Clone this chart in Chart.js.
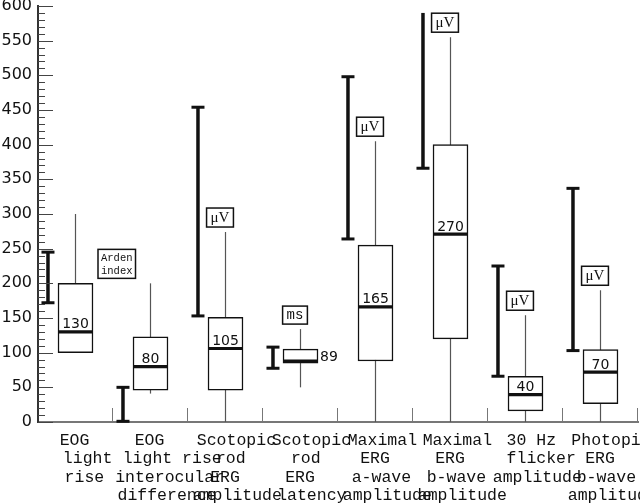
<!DOCTYPE html>
<html>
<head>
<meta charset="utf-8">
<script src="https://cdn.jsdelivr.net/npm/chart.js@4.4.0/dist/chart.umd.min.js"></script>
<style>
  html, body { margin: 0; padding: 0; background: #fff; }
  #wrap { width: 640px; height: 503px; }
</style>
</head>
<body>
<div id="wrap"><canvas id="chart" width="640" height="503"></canvas></div>
<script>
// ── DATA ──
const CATEGORIES = [
  ['EOG', 'light', 'rise'],
  ['EOG', 'light rise', 'interocular', 'difference'],
  ['Scotopic', 'rod', 'ERG', 'amplitude'],
  ['Scotopic', 'rod', 'ERG', 'latency'],
  ['Maximal', 'ERG', 'a-wave', 'amplitude'],
  ['Maximal', 'ERG', 'b-wave', 'amplitude'],
  ['30 Hz', 'flicker', 'amplitude'],
  ['Photopic', 'ERG', 'b-wave', 'amplitude']
];
const Q1            = [100, 46, 46, 85, 88, 120, 16, 26.5];
const Q3            = [200, 123, 151, 105, 255, 400, 66, 104.5];
const MEDIANS       = [130, 80, 106, 88, 166, 271, 39.5, 72];
const MEDIAN_LABELS = ['130', '80', '105', '89', '165', '270', '40', '70'];
const WHISKER_LOW   = [100, 41, 0, 50, 0, 0, 0, 0];
const WHISKER_HIGH  = [300, 200, 274, 134, 405, 555, 154, 190];
const NORMAL_LOW    = [172, 1, 153, 77.5, 264, 366, 66, 103];
const NORMAL_HIGH   = [245, 50, 454, 108, 498, 590, 225, 337];
const NORMAL_OPEN_TOP = [false, false, false, false, false, true, false, false];
const UNITS = [['Arden', 'index'], null, ['μV'], ['ms'], ['μV'], ['μV'], ['μV'], ['μV']];
const Y_TICKS = [0, 50, 100, 150, 200, 250, 300, 350, 400, 450, 500, 550, 600];

// ── DRAWING HELPERS ──
const INK = '#111';

function catWidth(x) { return x.width / CATEGORIES.length; }

function drawUnitBox(ctx, lines, cx, bottom, left, top) {
  let font, lh, padX, h;
  if (lines.length > 1)      { font = '10.5px "Liberation Mono"'; lh = 13; padX = 3; }
  else if (lines[0] === 'ms') { font = '14px "Liberation Mono"'; lh = 18; padX = 4; }
  else                        { font = '15px "Liberation Serif"'; lh = 19; padX = 4; }
  ctx.font = font;
  const w = Math.max(...lines.map(l => ctx.measureText(l).width)) + padX * 2;
  h = lines.length * lh + (lines.length > 1 ? 3 : 0);
  const bx = left !== undefined ? left : cx - w / 2;
  const by = top !== undefined ? top : bottom - h;
  ctx.fillStyle = '#fff';
  ctx.fillRect(bx, by, w, h);
  ctx.strokeStyle = INK; ctx.lineWidth = 1.5;
  ctx.strokeRect(bx, by, w, h);
  ctx.fillStyle = INK;
  ctx.textAlign = 'center'; ctx.textBaseline = 'middle';
  lines.forEach((l, k) => ctx.fillText(l, bx + w / 2, by + (lines.length > 1 ? 1.5 : 0) + lh * (k + 0.5) + 0.5));
}

const overlay = {
  id: 'overlay',
  beforeDatasetsDraw(chart) {
    const { ctx, scales: { x, y } } = chart;
    ctx.save();
    ctx.strokeStyle = '#555'; ctx.lineWidth = 1.2;
    CATEGORIES.forEach((c, i) => {
      if (WHISKER_HIGH[i] <= WHISKER_LOW[i]) return;
      const cx = x.getPixelForValue(i);
      ctx.beginPath();
      ctx.moveTo(cx, y.getPixelForValue(WHISKER_LOW[i]));
      ctx.lineTo(cx, y.getPixelForValue(WHISKER_HIGH[i]));
      ctx.stroke();
    });
    ctx.restore();
  },
  afterDatasetsDraw(chart) {
    const { ctx, scales: { x, y } } = chart;
    const cw = catWidth(x);
    const half = 17.5;
    ctx.save();
    CATEGORIES.forEach((c, i) => {
      const cx = x.getPixelForValue(i);

      // median line
      const my = y.getPixelForValue(MEDIANS[i]);
      ctx.strokeStyle = INK; ctx.lineWidth = 3.2;
      ctx.beginPath(); ctx.moveTo(cx - half, my); ctx.lineTo(cx + half, my); ctx.stroke();

      // median label
      ctx.fillStyle = INK;
      ctx.font = '14px "DejaVu Sans"';
      const boxTop = y.getPixelForValue(Q3[i]), boxBot = y.getPixelForValue(Q1[i]);
      if (boxBot - boxTop < 25) {
        ctx.textAlign = 'left'; ctx.textBaseline = 'middle';
        ctx.fillText(MEDIAN_LABELS[i], cx + half + 2, (boxTop + boxBot) / 2 + 1.5);
      } else {
        ctx.textAlign = 'center'; ctx.textBaseline = 'alphabetic';
        ctx.fillText(MEDIAN_LABELS[i], cx, my - 3.5);
      }

      // normal range bar
      const rx = cx - cw * 0.367;
      const rTop = y.getPixelForValue(NORMAL_HIGH[i]), rBot = y.getPixelForValue(NORMAL_LOW[i]);
      ctx.lineWidth = 3.5;
      ctx.beginPath(); ctx.moveTo(rx, rTop); ctx.lineTo(rx, rBot); ctx.stroke();
      ctx.lineWidth = 3;
      ctx.beginPath(); ctx.moveTo(rx - 6.5, rBot); ctx.lineTo(rx + 6.5, rBot); ctx.stroke();
      if (!NORMAL_OPEN_TOP[i]) {
        ctx.beginPath(); ctx.moveTo(rx - 6.5, rTop); ctx.lineTo(rx + 6.5, rTop); ctx.stroke();
      }

      // unit tag
      if (UNITS[i]) {
        if (UNITS[i].length > 1) {
          drawUnitBox(ctx, UNITS[i], 0, 0, cx + cw * 0.3, y.getPixelForValue(249));
        } else {
          drawUnitBox(ctx, UNITS[i], cx - 5.5, y.getPixelForValue(WHISKER_HIGH[i]) - 5);
        }
      }
    });
    ctx.restore();
  },
  afterDraw(chart) {
    const { ctx, scales: { x, y } } = chart;
    const cw = catWidth(x);
    ctx.save();

    // y ticks, pointing inward
    ctx.strokeStyle = '#444'; ctx.lineWidth = 1;
    for (let v = 0; v <= 600; v += 10) {
      const py = Math.round(y.getPixelForValue(v)) + 0.5;
      const len = v % 50 === 0 ? 15 : 7;
      ctx.beginPath(); ctx.moveTo(x.left, py); ctx.lineTo(x.left + len, py); ctx.stroke();
    }

    // category separators on the x axis
    ctx.strokeStyle = '#777';
    CATEGORIES.forEach((c, i) => {
      const px = Math.round(x.getPixelForValue(i) + cw / 2) - 0.5;
      ctx.beginPath(); ctx.moveTo(px, y.bottom); ctx.lineTo(px, y.bottom - 14); ctx.stroke();
    });

    // category labels: monospace text laid out with proportional metrics
    ctx.fillStyle = INK;
    ctx.textAlign = 'left'; ctx.textBaseline = 'alphabetic';
    CATEGORIES.forEach((lines, i) => {
      const cx = x.getPixelForValue(i);
      lines.forEach((l, k) => {
        ctx.font = '16px "Liberation Sans"';
        const w = ctx.measureText(l).width;
        ctx.font = '16.5px "Liberation Mono"';
        ctx.fillText(l, cx - w / 2 + 2, y.bottom + 22.8 + k * 18.4);
      });
    });
    ctx.restore();
  }
};

new Chart(document.getElementById('chart'), {
  type: 'bar',
  data: {
    labels: CATEGORIES.map(c => c.join(' ')),
    datasets: [{
      data: Q1.map((q, i) => [q, Q3[i]]),
      backgroundColor: '#fff',
      borderColor: INK,
      borderWidth: 1.5,
      borderSkipped: false,
      barThickness: 35
    }]
  },
  options: {
    responsive: false,
    animation: false,
    layout: { padding: { top: 6, right: 2, left: 0, bottom: 0 } },
    plugins: { legend: { display: false }, tooltip: { enabled: false } },
    scales: {
      x: {
        grid: { display: false, drawTicks: false },
        border: { display: true, color: '#777', width: 2 },
        ticks: { display: false },
        afterFit: s => { s.height = 81; s.paddingLeft = 0; s.paddingRight = 0; }
      },
      y: {
        min: 0, max: 600,
        afterBuildTicks: s => { s.ticks = Y_TICKS.map(v => ({ value: v })); },
        grid: { display: false, drawTicks: false },
        border: { display: true, color: '#333', width: 2 },
        ticks: { color: INK, padding: 6, font: { family: '"DejaVu Sans"', size: 16 } },
        afterFit: s => { s.width = 38; s.paddingTop = 0; s.paddingBottom = 0; }
      }
    }
  },
  plugins: [overlay]
});
</script>
</body>
</html>
